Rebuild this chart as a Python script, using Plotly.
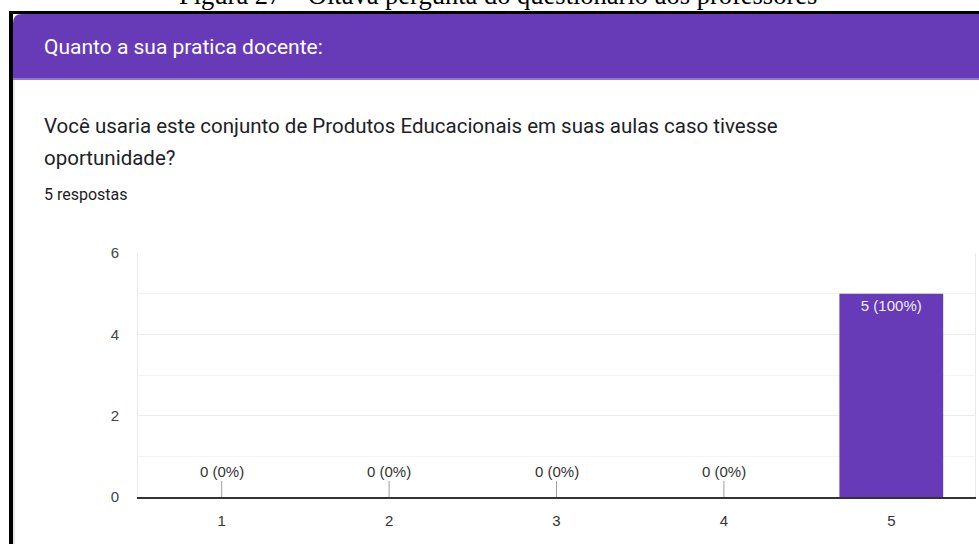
import plotly.graph_objects as go

# ---- data ----
categories = [1, 2, 3, 4, 5]
counts = [0, 0, 0, 0, 5]
total = sum(counts)
y_ticks = [0, 2, 4, 6]

caption = "Figura 27 – Oitava pergunta do questionário aos professores"
section_title = "Quanto a sua pratica docente:"
question_lines = [
    "Você usaria este conjunto de Produtos Educacionais em suas aulas caso tivesse",
    "oportunidade?",
]
responses_label = f"{total} respostas"

W, H = 979, 544
PURPLE = "#673AB7"
CHART_FONT = "Liberation Sans, Arial"


def px(x):
    return x / W


def py(y):
    return 1 - y / H


labels = [f"{v} ({round(100 * v / total)}%)" for v in counts]

fig = go.Figure()
fig.add_trace(go.Bar(
    x=categories,
    y=counts,
    width=0.62,
    marker=dict(color=PURPLE, line=dict(width=0)),
    text=[lab if v > 0 else "" for lab, v in zip(labels, counts)],
    textposition="inside",
    insidetextanchor="end",
    textfont=dict(family=CHART_FONT, size=15, color="#eeeeee"),
    hoverinfo="skip",
    showlegend=False,
))

annotations = []
for c, v, lab in zip(categories, counts, labels):
    if v == 0:
        annotations.append(dict(
            x=c, y=v, xref="x", yref="y", text=lab,
            showarrow=True, arrowhead=0, arrowwidth=1, arrowcolor="#9e9e9e",
            ax=0, ay=-26, standoff=0,
            font=dict(family=CHART_FONT, size=15, color="#333333"),
        ))

# caption (cut at top)
annotations.append(dict(
    x=px(498), y=py(12), xref="paper", yref="paper", text=caption,
    showarrow=False, xanchor="center", yanchor="bottom",
    font=dict(family="Liberation Serif, Times New Roman", size=26.5, color="#000000"),
))
# header text
annotations.append(dict(
    x=px(42), y=py(47), xref="paper", yref="paper", text=section_title,
    showarrow=False, xanchor="left", yanchor="middle",
    font=dict(family="Roboto", size=21, color="#ffffff"),
))
# question (two lines)
for i, line in enumerate(question_lines):
    annotations.append(dict(
        x=px(42), y=py(126 + 32 * i), xref="paper", yref="paper", text=line,
        showarrow=False, xanchor="left", yanchor="middle", align="left",
        font=dict(family="Roboto", size=20.5, color="#202124"),
    ))
# responses
annotations.append(dict(
    x=px(42), y=py(195), xref="paper", yref="paper", text=responses_label,
    showarrow=False, xanchor="left", yanchor="middle",
    font=dict(family="Roboto", size=16, color="#202124"),
))

r = 9
x0, x1, y0, y1 = 13, W + 2, 14, 78
header_path = (
    f"M {px(x0)},{py(y1)} L {px(x0)},{py(y0 + r)} "
    f"Q {px(x0)},{py(y0)} {px(x0 + r)},{py(y0)} "
    f"L {px(x1)},{py(y0)} L {px(x1)},{py(y1)} Z"
)

shapes = [
    # black page border: top and left
    dict(type="rect", xref="paper", yref="paper", x0=px(9), x1=px(W + 2), y0=py(11), y1=py(14),
         fillcolor="#000000", line=dict(width=0), layer="below"),
    dict(type="rect", xref="paper", yref="paper", x0=px(9), x1=px(13), y0=py(H + 2), y1=py(11),
         fillcolor="#000000", line=dict(width=0), layer="below"),
    dict(type="rect", xref="paper", yref="paper", x0=px(13), x1=px(15), y0=py(H + 2), y1=py(80),
         fillcolor="#e6e6e6", line=dict(width=0), layer="below"),
    # purple header
    dict(type="path", xref="paper", yref="paper", path=header_path,
         fillcolor=PURPLE, line=dict(width=0), layer="below"),
    dict(type="rect", xref="paper", yref="paper", x0=px(13), x1=px(W + 2), y0=py(80), y1=py(78),
         fillcolor="#9575cd", line=dict(width=0), layer="below"),
]

fig.update_layout(
    width=W, height=H,
    autosize=False,
    margin=dict(l=0, r=0, t=0, b=0, pad=0, autoexpand=False),
    paper_bgcolor="#ffffff",
    plot_bgcolor="#ffffff",
    annotations=annotations,
    shapes=shapes,
    showlegend=False,
    xaxis=dict(
        domain=[px(138), px(975)],
        range=[0.5, 5.5],
        tickvals=categories,
        ticktext=[str(c) for c in categories],
        showgrid=False,
        zeroline=False,
        showline=True, linecolor="#333333", linewidth=2,
        ticks="", ticklabelstandoff=9,
        tickfont=dict(family=CHART_FONT, size=15, color="#333333"),
        automargin=False,
        fixedrange=True,
    ),
    yaxis=dict(
        domain=[py(497), py(253)],
        range=[0, 6],
        tickvals=y_ticks,
        showgrid=True, gridcolor="#ebebeb", gridwidth=1,
        minor=dict(dtick=1, showgrid=True, gridcolor="#f3f3f3", gridwidth=1),
        zeroline=False,
        showline=True, linecolor="#ebebeb", linewidth=1, mirror=True,
        ticks="", ticklabelstandoff=15,
        tickfont=dict(family=CHART_FONT, size=15, color="#444444"),
        automargin=False,
        fixedrange=True,
    ),
)

fig.write_html(
    "out.html",
    config={"displayModeBar": False, "staticPlot": True},
    post_script=(
        "document.documentElement.style.margin='0';"
        "document.documentElement.style.padding='0';"
        "document.documentElement.style.overflow='hidden';"
        "document.body.style.margin='0';"
        "document.body.style.padding='0';"
        "document.body.style.overflow='hidden';"
    ),
)
